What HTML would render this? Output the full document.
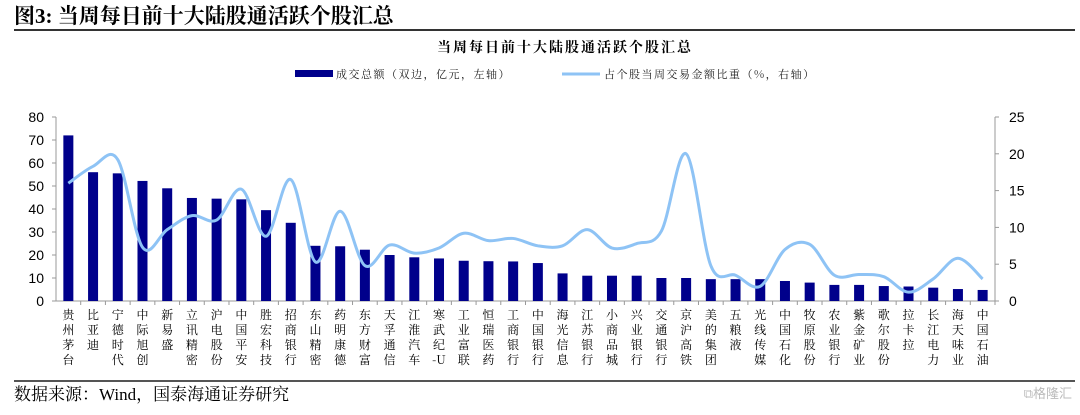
<!DOCTYPE html>
<html><head><meta charset="utf-8">
<style>
body{margin:0;width:1080px;height:410px;background:#fff;overflow:hidden;font-family:"Liberation Serif","Noto Serif CJK SC",serif;}
svg text{font-family:"Liberation Sans","Noto Sans CJK SC",sans-serif;}
</style></head>
<body>
<svg id="c" width="1080" height="410" xmlns="http://www.w3.org/2000/svg">
<text x="14" y="23" font-size="21" font-weight="bold" fill="#000" style="font-family:'Liberation Serif','Noto Serif CJK SC',serif">图3:  当周每日前十大陆股通活跃个股汇总</text>
<line x1="14" y1="30" x2="1075" y2="30" stroke="#333" stroke-width="2"/>
<text x="565" y="52" font-size="14" text-anchor="middle" font-weight="bold" fill="#000" letter-spacing="2" style="font-family:'Noto Serif CJK SC',serif">当周每日前十大陆股通活跃个股汇总</text>
<rect x="295" y="70" width="38" height="7" fill="#00008B"/>
<text x="336" y="78" font-size="11" fill="#222" letter-spacing="1.5" style="font-family:'Noto Serif CJK SC',serif">成交总额（双边，亿元，左轴）</text>
<line x1="562" y1="74" x2="600" y2="74" stroke="#8EC3F5" stroke-width="3"/>
<text x="604" y="78" font-size="11" fill="#222" letter-spacing="1.5" style="font-family:'Noto Serif CJK SC',serif">占个股当周交易金额比重（%，右轴）</text>
<g id="plot"></g>
<line x1="14" y1="381" x2="1075" y2="381" stroke="#555" stroke-width="2"/>
<text x="14" y="400" font-size="17" fill="#000" style="font-family:'Liberation Serif','Noto Serif CJK SC',serif">数据来源：Wind，国泰海通证券研究</text>
<text x="1072" y="398" font-size="13" text-anchor="end" fill="#bbb">⧉格隆汇</text>
</svg>
<script>
const categories=["贵州茅台","比亚迪","宁德时代","中际旭创","新易盛","立讯精密","沪电股份","中国平安","胜宏科技","招商银行","东山精密","药明康德","东方财富","天孚通信","江淮汽车","寒武纪-U","工业富联","恒瑞医药","工商银行","中国银行","海光信息","江苏银行","小商品城","兴业银行","交通银行","京沪高铁","美的集团","五粮液","光线传媒","中国石化","牧原股份","农业银行","紫金矿业","歌尔股份","拉卡拉","长江电力","海天味业","中国石油"];
const amounts=[72,56,55.5,52.2,49,44.8,44.5,44.2,39.5,34,24,23.8,22.3,20,19,18.5,17.5,17.3,17.2,16.5,12,11,11,11,10,10,9.5,9.5,9.5,8.7,8,7,7,6.5,6.3,5.8,5.2,4.8];
const shares=[16,18.3,19.2,7.3,9.7,11.6,11,15.2,8.8,16.5,5.3,12.2,4.8,7.6,6.5,7.2,9.2,8.2,8.5,7.5,7.5,9.7,7.2,7.8,9.5,20,4.8,3.5,2,7,7.7,3.5,3.6,3.3,1.2,3,5.8,3];
const leftTicks=[0,10,20,30,40,50,60,70,80];
const rightTicks=[0,5,10,15,20,25];
const X0=56,X1=995,Y0=301,Y1=117;
const step=(X1-X0)/categories.length;
const xc=i=>X0+step*(i+0.5);
const yL=v=>Y0-(v/80)*(Y0-Y1);
const yR=v=>Y0-(v/25)*(Y0-Y1);
const g=document.getElementById('plot');
const NS='http://www.w3.org/2000/svg';
function mk(t,a){const e=document.createElementNS(NS,t);for(const k in a)e.setAttribute(k,a[k]);g.appendChild(e);return e;}
let e;
e=mk('line',{x1:X0,y1:Y1,x2:X0,y2:Y0,stroke:'#999'});


e=mk('line',{x1:X1,y1:Y1,x2:X1,y2:Y0,stroke:'#999'});


e=mk('line',{x1:X0,y1:Y0,x2:X1,y2:Y0,stroke:'#999'});


leftTicks.forEach(v=>{
  mk('line',{x1:X0-4,y1:yL(v),x2:X0,y2:yL(v),stroke:'#999'});
  e=mk('text',{x:X0-12,y:yL(v)+5,'font-size':14,'text-anchor':'end',fill:'#000'});e.textContent=v;
  
  
});
rightTicks.forEach(v=>{
  mk('line',{x1:X1,y1:yR(v),x2:X1+4,y2:yR(v),stroke:'#999'});
  e=mk('text',{x:X1+14,y:yR(v)+5,'font-size':14,fill:'#000'});e.textContent=v;
  
  
});
categories.forEach((c,i)=>{
  mk('line',{x1:X0+step*(i+1),y1:Y0,x2:X0+step*(i+1),y2:Y0+4,stroke:'#999'});
  e=mk('rect',{x:xc(i)-5,y:yL(amounts[i]),width:10,height:Y0-yL(amounts[i]),fill:'#00008B'});
  
  
  const t=mk('text',{x:xc(i),y:Y0+18,'font-size':12,'text-anchor':'middle',fill:'#000',style:"font-family:'Noto Serif CJK SC',serif"});
  
  
  const chars=c==='寒武纪-U'?['寒','武','纪','-U']:[...c];
  chars.forEach((ch,k)=>{const s=document.createElementNS(NS,'tspan');s.setAttribute('x',xc(i));s.setAttribute('dy',k?15:0);s.textContent=ch;t.appendChild(s);});
});
const pts=shares.map((v,i)=>[xc(i),yR(v)]);
let d='M'+pts[0][0]+','+pts[0][1];
for(let i=0;i<pts.length-1;i++){
  const p0=pts[i-1]||pts[i],p1=pts[i],p2=pts[i+1],p3=pts[i+2]||p2;
  const c1=[p1[0]+(p2[0]-p0[0])/6,p1[1]+(p2[1]-p0[1])/6];
  const c2=[p2[0]-(p3[0]-p1[0])/6,p2[1]-(p3[1]-p1[1])/6];
  d+=` C${c1[0]},${c1[1]} ${c2[0]},${c2[1]} ${p2[0]},${p2[1]}`;
}
e=mk('path',{d:d,fill:'none',stroke:'#8EC3F5','stroke-width':3});


</script>
</body></html>
